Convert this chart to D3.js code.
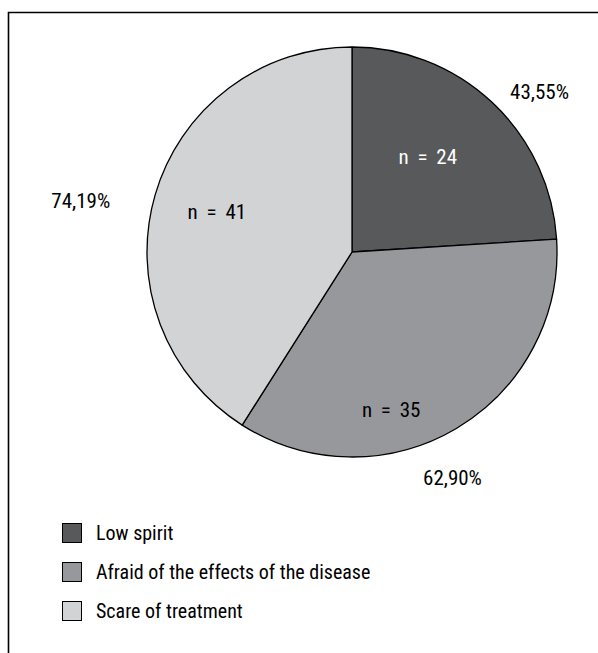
<!DOCTYPE html>
<html>
<head>
<meta charset="utf-8">
<script src="https://cdn.jsdelivr.net/npm/d3@7"></script>
<style>
  body { margin: 0; background: #fff; }
  svg text { font-family: "Liberation Sans Narrow", "Arial Narrow", "Roboto", sans-serif; font-stretch: condensed; font-weight: 400; }
</style>
</head>
<body>
<div id="main"></div>
<script>
const categories = ["Low spirit", "Afraid of the effects of the disease", "Scare of treatment"];
const counts = [24, 35, 41];
const pctLabels = ["43,55%", "62,90%", "74,19%"];
const colors = ["#58595b", "#97989b", "#d2d3d5"];

const width = 598, height = 653;
const cx = 352, cy = 252, radius = 205;

// where the labels sit, as [angle in degrees from 12 o'clock, distance from centre]
const innerPos = [[38.4, 122], [166, 162], [286.5, 141]];
const outerPos = [[49.4, 247], [156, 247], [280.7, 276]];

const svg = d3.select('#main')
    .append('svg')
    .attr('width', width)
    .attr('height', height);

// frame (top and left edges only show)
svg.append('path')
    .attr('d', `M8.5,${height} L8.5,12.5 L${width},12.5`)
    .attr('fill', 'none')
    .attr('stroke', '#000')
    .attr('stroke-width', 1.6);

const pie = d3.pie().sort(null).value(d => d);
const arc = d3.arc().innerRadius(0).outerRadius(radius);
const arcs = pie(counts);

const g = svg.append('g').attr('transform', `translate(${cx},${cy})`);

g.selectAll('path')
    .data(arcs)
    .enter()
    .append('path')
    .attr('d', arc)
    .attr('fill', (d, i) => colors[i])
    .attr('stroke', '#000')
    .attr('stroke-width', 1.3)
    .attr('stroke-linejoin', 'round');

function polar(p) {
    const a = p[0] * Math.PI / 180;
    return [Math.sin(a) * p[1], -Math.cos(a) * p[1]];
}

g.selectAll('text.n')
    .data(arcs)
    .enter()
    .append('text')
    .attr('class', 'n')
    .attr('x', (d, i) => polar(innerPos[i])[0])
    .attr('y', (d, i) => polar(innerPos[i])[1])
    .attr('dy', '0.35em')
    .attr('text-anchor', 'middle')
    .attr('font-size', 21)
    .attr('word-spacing', 4)
    .attr('fill', (d, i) => i == 0 ? '#fff' : '#000')
    .text(d => 'n = ' + d.data);

g.selectAll('text.pct')
    .data(arcs)
    .enter()
    .append('text')
    .attr('class', 'pct')
    .attr('x', (d, i) => polar(outerPos[i])[0])
    .attr('y', (d, i) => polar(outerPos[i])[1])
    .attr('dy', '0.35em')
    .attr('text-anchor', 'middle')
    .attr('font-size', 21)
    .attr('fill', '#000')
    .text((d, i) => pctLabels[i]);

// legend
const ly = d3.scalePoint().domain(categories).range([523, 601]);

const legend = svg.append('g')
    .selectAll('g')
    .data(categories)
    .enter()
    .append('g')
    .attr('transform', d => `translate(62,${ly(d)})`);

legend.append('rect')
    .attr('x', 0.5)
    .attr('y', 0.5)
    .attr('width', 19)
    .attr('height', 19)
    .attr('fill', (d, i) => colors[i])
    .attr('stroke', '#000')
    .attr('stroke-width', 1);

legend.append('text')
    .attr('x', 34)
    .attr('y', 17)
    .attr('font-size', 20)
    .attr('fill', '#000')
    .text(d => d);
</script>
</body>
</html>
